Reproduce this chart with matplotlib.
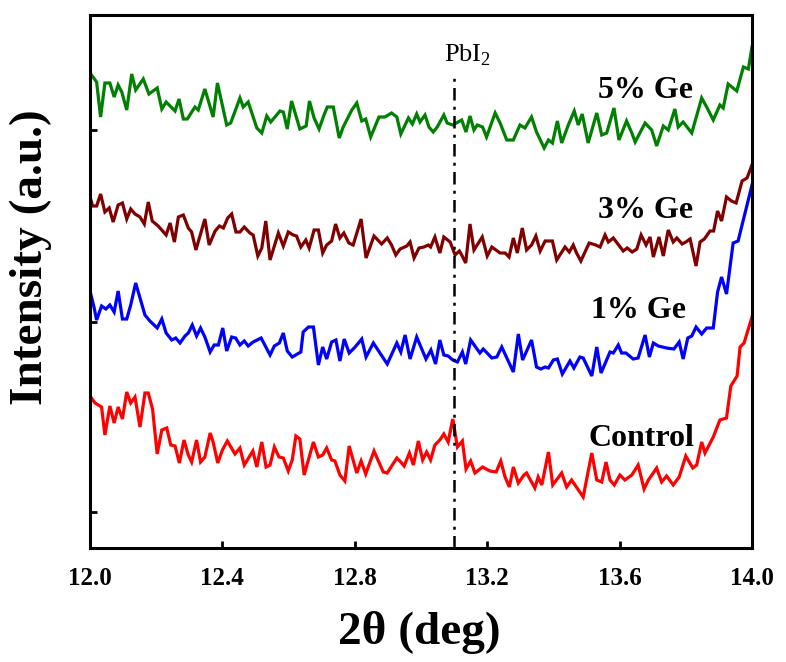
import matplotlib
matplotlib.use("Agg")
import matplotlib.pyplot as plt

plt.rcParams['font.family'] = ['Liberation Serif', 'DejaVu Serif']
plt.rcParams['mathtext.fontset'] = 'custom'
plt.rcParams['mathtext.rm'] = 'Liberation Serif'

# ---- data (2theta in deg, intensity in a.u., curves stacked as displayed) ----
ge5 = [(12.000,475),(12.020,466),(12.032,431),(12.045,465),(12.060,465),(12.073,451),(12.085,463),(12.096,456),(12.111,438),(12.126,474),(12.138,458),(12.161,469),(12.178,454),(12.203,460),(12.217,439),(12.230,446),(12.257,437),(12.269,449),(12.282,429),(12.294,429),(12.317,441),(12.327,438),(12.347,459),(12.372,431),(12.385,465),(12.413,423),(12.425,425),(12.453,450),(12.463,441),(12.478,446),(12.504,420),(12.519,415),(12.534,432),(12.546,426),(12.574,437),(12.584,436),(12.596,419),(12.609,447),(12.634,419),(12.653,422),
       (12.663,447),(12.677,430),(12.692,419),(12.707,433),(12.717,441),(12.735,441),(12.753,410),(12.765,421),(12.791,438),(12.806,445),(12.821,427),(12.833,429),(12.848,411),(12.873,431),(12.891,431),(12.911,435),(12.927,431),(12.939,414),(12.962,430),(12.974,424),(12.987,434),(12.997,426),(13.012,433),(13.024,421),(13.037,416),(13.049,421),(13.069,433),(13.079,425),(13.096,423),(13.123,428),(13.136,416),(13.148,432),(13.160,418),(13.170,423),(13.186,421),(13.198,411),(13.224,435),(13.239,425),(13.259,408),(13.279,408),(13.299,423),(13.314,420),
       (13.334,431),(13.349,416),(13.372,400),(13.385,408),(13.397,405),(13.412,427),(13.425,405),(13.445,423),(13.463,437),(13.475,423),(13.487,434),(13.505,405),(13.531,435),(13.546,413),(13.561,415),(13.583,440),(13.598,408),(13.621,427),(13.637,415),(13.647,406),(13.677,425),(13.697,418),(13.712,402),(13.732,422),(13.747,418),(13.767,439),(13.777,421),(13.792,426),(13.818,415),(13.848,450),(13.863,441),(13.883,428),(13.903,443),(13.913,440),(13.928,464),(13.954,457),(13.974,481),(13.989,479),(14.000,501)]

ge3 = [(12.000,351),(12.008,342),(12.020,342),(12.032,354),(12.045,336),(12.058,340),(12.070,326),(12.085,343),(12.098,345),(12.111,329),(12.123,339),(12.136,334),(12.151,331),(12.164,324),(12.176,346),(12.188,327),(12.206,322),(12.230,313),(12.242,325),(12.255,306),(12.267,331),(12.282,333),(12.297,320),(12.307,316),(12.320,298),(12.347,329),(12.360,303),(12.378,317),(12.391,322),(12.403,320),(12.416,330),(12.428,334),(12.441,316),(12.453,316),(12.466,321),(12.483,315),(12.493,313),(12.507,292),(12.519,300),(12.531,327),(12.544,288),(12.569,315),(12.584,302),(12.599,316),(12.614,313),(12.624,312),(12.637,301),(12.652,308),
       (12.662,300),(12.677,318),(12.690,318),(12.703,295),(12.715,303),(12.730,307),(12.742,324),(12.755,310),(12.767,315),(12.782,305),(12.795,303),(12.819,329),(12.834,290),(12.858,312),(12.881,304),(12.898,310),(12.911,303),(12.924,293),(12.937,299),(12.957,302),(12.967,306),(12.979,290),(12.994,300),(13.009,301),(13.022,303),(13.029,301),(13.042,311),(13.057,295),(13.069,311),(13.088,306),(13.103,293),(13.116,297),(13.123,293),(13.135,285),(13.148,324),(13.160,298),(13.185,311),(13.200,292),(13.214,301),(13.239,295),(13.254,295),(13.266,291),(13.279,310),(13.291,295),(13.306,320),
       (13.319,298),(13.334,303),(13.347,312),(13.360,297),(13.375,307),(13.397,307),(13.410,288),(13.435,301),(13.448,296),(13.460,303),(13.470,295),(13.483,287),(13.508,305),(13.528,303),(13.541,301),(13.556,313),(13.566,306),(13.581,310),(13.611,297),(13.623,300),(13.638,296),(13.652,299),(13.665,313),(13.680,303),(13.692,311),(13.702,291),(13.719,311),(13.732,292),(13.747,318),(13.762,306),(13.773,310),(13.789,304),(13.800,306),(13.813,309),(13.831,282),(13.843,306),(13.856,309),(13.873,317),(13.884,317),(13.896,337),(13.908,327),(13.923,351),(13.938,347),(13.952,345),(13.970,367),(13.985,370),(14.000,383)]

ge1 = [(12.000,257),(12.012,241),(12.020,228),(12.035,242),(12.048,239),(12.060,243),(12.073,236),(12.085,257),(12.098,229),(12.111,229),(12.123,243),(12.138,265),(12.166,233),(12.181,227),(12.203,220),(12.217,229),(12.230,215),(12.247,208),(12.259,210),(12.272,205),(12.287,212),(12.297,215),(12.309,223),(12.322,212),(12.334,220),(12.347,211),(12.363,196),(12.375,203),(12.388,203),(12.401,220),(12.413,197),(12.428,211),(12.440,210),(12.453,203),(12.466,207),(12.478,202),(12.493,206),(12.517,210),(12.544,193),(12.557,202),(12.572,205),(12.584,215),(12.596,197),(12.611,191),(12.637,196),
       (12.644,216),(12.660,221),(12.675,221),(12.690,183),(12.703,201),(12.715,189),(12.730,206),(12.743,208),(12.755,187),(12.768,209),(12.783,195),(12.801,201),(12.821,209),(12.834,191),(12.856,205),(12.898,184),(12.927,205),(12.939,196),(12.952,213),(12.967,189),(12.987,211),(13.015,189),(13.030,198),(13.044,184),(13.057,208),(13.069,193),(13.082,192),(13.096,188),(13.110,186),(13.125,196),(13.135,184),(13.150,208),(13.178,195),(13.188,199),(13.214,190),(13.229,191),(13.244,201),(13.279,176),(13.294,214),(13.307,188),
       (13.334,208),(13.349,181),(13.362,179),(13.375,181),(13.385,180),(13.400,188),(13.412,189),(13.427,174),(13.450,187),(13.462,180),(13.480,191),(13.490,190),(13.516,172),(13.531,201),(13.544,175),(13.571,196),(13.581,195),(13.596,203),(13.606,195),(13.619,195),(13.641,189),(13.656,190),(13.677,213),(13.690,191),(13.702,205),(13.717,202),(13.742,200),(13.764,199),(13.780,206),(13.792,189),(13.806,210),(13.818,212),(13.831,221),(13.848,214),(13.863,220),(13.883,220),(13.896,256),(13.908,271),(13.923,254),(13.943,305),(13.958,307),(14.000,363)]

control = [(12.000,152),(12.015,145),(12.025,143),(12.035,141),(12.045,113),(12.060,142),(12.073,125),(12.085,141),(12.098,129),(12.111,156),(12.123,145),(12.136,151),(12.151,121),(12.166,155),(12.176,155),(12.189,139),(12.203,94),(12.217,118),(12.232,120),(12.244,103),(12.257,102),(12.270,85),(12.284,108),(12.297,93),(12.307,86),(12.322,108),(12.334,86),(12.347,91),(12.363,115),(12.372,106),(12.386,85),(12.400,98),(12.415,107),(12.438,94),(12.453,100),(12.466,83),(12.492,97),(12.504,81),(12.519,106),(12.532,81),(12.544,83),(12.557,101),(12.571,91),(12.584,90),(12.599,77),(12.611,88),(12.622,112),(12.634,109),(12.647,73),
           (12.675,106),(12.690,91),(12.703,93),(12.715,100),(12.730,88),(12.740,87),(12.755,73),(12.770,67),(12.783,102),(12.806,75),(12.819,87),(12.833,74),(12.858,97),(12.886,76),(12.898,75),(12.927,90),(12.939,86),(12.949,82),(12.965,95),(12.977,83),(12.992,107),(13.005,88),(13.017,96),(13.029,88),(13.042,103),(13.057,108),(13.069,114),(13.082,106),(13.096,129),(13.110,101),(13.125,107),(13.136,79),(13.150,87),(13.163,75),(13.186,81),(13.208,77),(13.227,76),(13.241,87),(13.254,71),(13.267,61),(13.279,81),(13.294,65),(13.311,73),
           (13.319,75),(13.344,60),(13.354,71),(13.365,63),(13.385,96),(13.398,63),(13.425,75),(13.440,61),(13.455,68),(13.490,51),(13.516,95),(13.531,68),(13.546,66),(13.559,86),(13.571,68),(13.584,63),(13.601,73),(13.616,68),(13.637,73),(13.656,83),(13.674,59),(13.687,68),(13.712,80),(13.727,66),(13.742,72),(13.762,63),(13.780,71),(13.800,92),(13.821,80),(13.833,83),(13.848,106),(13.858,95),(13.883,111),(13.903,128),(13.923,130),(13.936,162),(13.955,172),(13.964,201),(13.976,205),(14.000,231)]

series_labels = ['5% Ge', '3% Ge', '1% Ge', 'Control']
series_colors = ['#008000', '#800000', '#0000FF', '#FF0000']
label_pos = [(13.677, 458), (13.677, 337), (13.656, 237), (13.665, 110)]
pbi2_x = 13.1
xticks = [12.0, 12.4, 12.8, 13.2, 13.6, 14.0]
yticks = [36, 226, 418]

fig = plt.figure(figsize=(7.86, 6.62), dpi=100)
ax = fig.add_axes([90/786, 1-548/662, (752-90)/786, (548-15)/662])

for data, col in zip([ge5, ge3, ge1, control], series_colors):
    xs = [p[0] for p in data]
    ys = [p[1] for p in data]
    ax.plot(xs, ys, color=col, lw=2.3, solid_joinstyle='miter')

for lab, (lx, ly) in zip(series_labels, label_pos):
    ax.text(lx, ly, lab, ha='center', va='center', fontsize=23, fontweight='bold')

ax.axvline(pbi2_x, ymin=0, ymax=(548-75)/533, color='black', lw=1.8,
           linestyle=(0, (5, 2.5, 1.2, 2.5)))
ax.text(13.142, 493, 'PbI$_{\\mathregular{2}}$', ha='center', va='center', fontsize=19)

ax.set_xlim(12.0, 14.0)
ax.set_ylim(0, 533)
ax.set_xticks(xticks)
ax.set_xticklabels([f'{t:.1f}' for t in xticks], fontsize=18, fontweight='bold')
ax.set_yticks(yticks)
ax.set_yticklabels([])
ax.tick_params(axis='both', direction='in', length=5, width=2)
ax.tick_params(axis='x', pad=14)
for s in ax.spines.values():
    s.set_linewidth(2.2)

ax.set_xlabel('2θ (deg)', fontsize=34, fontweight='bold')
ax.xaxis.set_label_coords(0.497, -0.118)
ax.set_ylabel('Intensity (a.u.)', fontsize=34, fontweight='bold')
ax.yaxis.set_label_coords(-0.057, 0.545)

fig.savefig('out.png', dpi=100)
